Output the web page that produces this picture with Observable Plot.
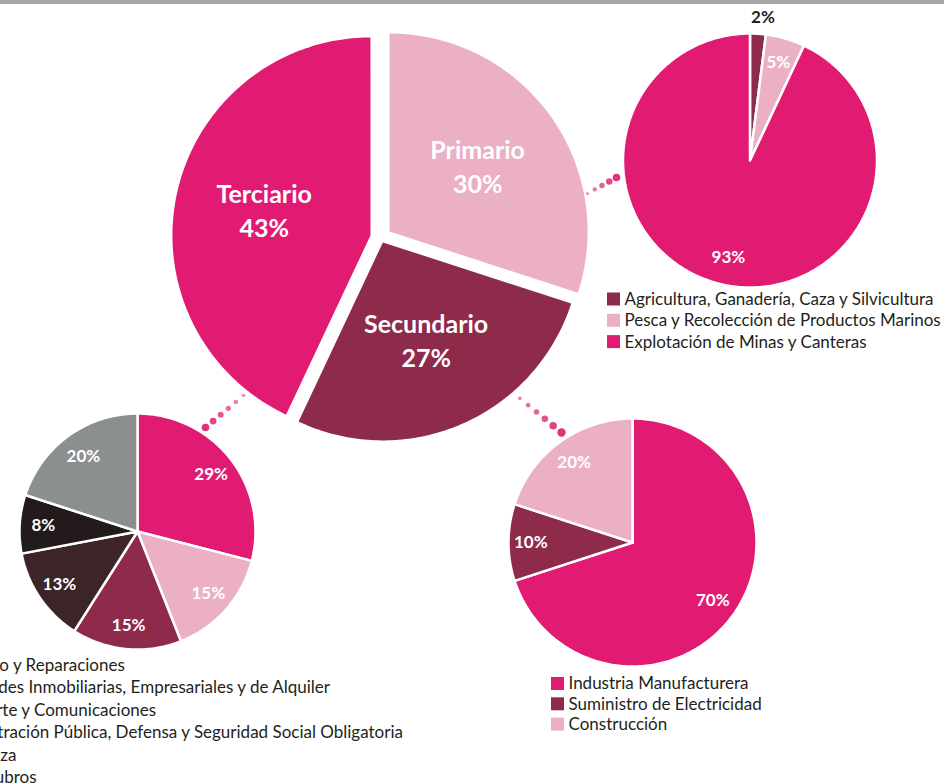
<!DOCTYPE html>
<html>
<head>
<meta charset="utf-8">
<script src="https://cdn.jsdelivr.net/npm/d3@7"></script>
<script src="https://cdn.jsdelivr.net/npm/@observablehq/plot@0.6"></script>
<style>
  html, body { margin: 0; padding: 0; background: #fff; overflow: hidden; }
  #wrap { position: relative; width: 944px; height: 784px; }
  #topbar { position: absolute; left: 0; top: 0; width: 944px; height: 4px; background: #a7a8ac; z-index: 2; }
</style>
</head>
<body>
<div id="wrap"><div id="topbar"></div><div id="chart"></div></div>
<script>
// ---------- DATA ----------
const sectorNames = ["Primario", "Secundario", "Terciario"];
const sectorValues = [30, 27, 43];

const primarioNames = ["Agricultura, Ganadería, Caza y Silvicultura", "Pesca y Recolección de Productos Marinos", "Explotación de Minas y Canteras"];
const primarioValues = [2, 5, 93];

const secundarioNames = ["Industria Manufacturera", "Suministro de Electricidad", "Construcción"];
const secundarioValues = [70, 10, 20];

const terciarioNames = ["Comercio y Reparaciones", "Actividades Inmobiliarias, Empresariales y de Alquiler", "Transporte y Comunicaciones", "Administración Pública, Defensa y Seguridad Social Obligatoria", "Enseñanza", "Otros Rubros"];
const terciarioValues = [29, 15, 15, 13, 8, 20];

// ---------- STYLES / LAYOUT ----------
const PINK = "#e21b72", LIGHT = "#ecb0c4", MAROON = "#8e2a4a", BROWN = "#3d2427", BLACK = "#231a1b", GRAY = "#8c8f90";
const sectorColors = [LIGHT, MAROON, PINK];
const primarioColors = [MAROON, LIGHT, PINK];
const secundarioColors = [PINK, MAROON, LIGHT];
const terciarioColors = [PINK, LIGHT, MAROON, BROWN, BLACK, GRAY];

const W = 944, H = 784;
const FONT = "Lato, 'Open Sans', sans-serif";
const TXT = "#231f20";

const mainPie = {cx: 380.4, cy: 237.3, r: 198, explode: [10.7, 5, 10.7]};
const priPie = {cx: 749.5, cy: 160, r: 127};
const secPie = {cx: 632, cy: 542, r: 124};
const terPie = {cx: 137, cy: 531, r: 118};

function arcs(values) {
  return d3.pie().sort(null).value(d => d).startAngle(0).endAngle(2 * Math.PI)(values);
}
function pt(cx, cy, r, a) { return [cx + r * Math.sin(a), cy - r * Math.cos(a)]; }

function polys(key, values, colors, pie) {
  const out = [];
  arcs(values).forEach((a, i) => {
    const mid = (a.startAngle + a.endAngle) / 2;
    const e = pie.explode ? pie.explode[i] : 0;
    const [cx, cy] = pt(pie.cx, pie.cy, e, mid);
    const id = key + i;
    out.push({id, x: cx, y: cy, color: colors[i]});
    const n = Math.max(2, Math.ceil((a.endAngle - a.startAngle) / (Math.PI / 180)));
    for (let k = 0; k <= n; k++) {
      const ang = a.startAngle + (a.endAngle - a.startAngle) * k / n;
      const [x, y] = pt(cx, cy, pie.r, ang);
      out.push({id, x, y, color: colors[i]});
    }
    out.push({id, x: cx, y: cy, color: colors[i]});
  });
  return out;
}

function pctLabels(values, pie, frac, fills, dx = []) {
  return arcs(values).map((a, i) => {
    const mid = (a.startAngle + a.endAngle) / 2;
    const [x, y] = pt(pie.cx, pie.cy, pie.r * frac[i], mid);
    return {x: x + (dx[i] || 0), y, text: values[i] + "%", fill: fills[i]};
  });
}

// main pie labels (two lines)
const mainLabels = [];
arcs(sectorValues).forEach((a, i) => {
  const mid = (a.startAngle + a.endAngle) / 2;
  const [ex, ey] = pt(mainPie.cx, mainPie.cy, mainPie.explode[i], mid);
  const [x, y] = pt(ex, ey, mainPie.r * 0.55, mid);
  mainLabels.push({x, y: y - 17, text: sectorNames[i]});
  mainLabels.push({x, y: y + 17, text: sectorValues[i] + "%"});
});

const priLabels = pctLabels(primarioValues, priPie, [1.13, 0.8, 0.78], [TXT, "#fff", "#fff"], [4, 0, 0]);
const secLabels = pctLabels(secundarioValues, secPie, [0.8, 0.82, 0.8], ["#fff", "#fff", "#fff"]);
const terLabels = pctLabels(terciarioValues, terPie, [0.79, 0.8, 0.8, 0.8, 0.8, 0.78], ["#fff", "#fff", "#fff", "#fff", "#fff", "#fff"]);

// legends
function legend(names, colors, x0, y0, dy) {
  return names.map((n, i) => ({name: n, color: colors[i], x: x0, y: y0 + i * dy}));
}
const priLegend = legend(primarioNames, primarioColors, 607, 299, 21.3);
const secLegend = legend(secundarioNames, secundarioColors, 551, 683.5, 20.3);
const terLegend = legend(terciarioNames, terciarioColors, -80, 665, 22.5);
const allLegend = [...priLegend, ...secLegend, ...terLegend];

// dotted connectors
function connector(x1, y1, x2, y2, n, r1, r2) {
  return d3.range(n).map(k => {
    const t = k / (n - 1);
    return {x: x1 + (x2 - x1) * t, y: y1 + (y2 - y1) * t, r: r1 + (r2 - r1) * t, o: 0.55 + 0.45 * t};
  });
}
const dots = [
  ...connector(587, 193, 616, 177, 5, 1.6, 3.8),
  ...connector(243, 395, 205, 427, 6, 1.8, 3.8),
  ...connector(511, 391, 561, 432, 7, 1.4, 4.2)
];

const chart = Plot.plot({
  width: W, height: H, margin: 0,
  x: {domain: [0, W], range: [0, W], axis: null},
  y: {domain: [0, H], range: [0, H], axis: null},
  color: {type: "identity"},
  r: {type: "identity"},
  opacity: {type: "identity"},
  style: {background: "#fff", overflow: "hidden"},
  marks: [
    Plot.dot(dots, {x: "x", y: "y", r: "r", fill: "#e0337a", fillOpacity: "o", stroke: "none"}),
    Plot.line(polys("m", sectorValues, sectorColors, mainPie), {x: "x", y: "y", z: "id", fill: "color", stroke: "none", curve: "linear"}),
    Plot.line(polys("p", primarioValues, primarioColors, priPie), {x: "x", y: "y", z: "id", fill: "color", stroke: "#fff", strokeWidth: 2.5, strokeLinejoin: "miter", curve: "linear"}),
    Plot.line(polys("s", secundarioValues, secundarioColors, secPie), {x: "x", y: "y", z: "id", fill: "color", stroke: "#fff", strokeWidth: 2.5, strokeLinejoin: "miter", curve: "linear"}),
    Plot.line(polys("t", terciarioValues, terciarioColors, terPie), {x: "x", y: "y", z: "id", fill: "color", stroke: "#fff", strokeWidth: 2.5, strokeLinejoin: "miter", curve: "linear"}),
    Plot.text(mainLabels, {x: "x", y: "y", text: "text", fill: "#fff", fontSize: 25, fontWeight: "bold", fontFamily: FONT}),
    Plot.text([...priLabels, ...secLabels, ...terLabels], {x: "x", y: "y", text: "text", fill: "fill", fontSize: 17, fontWeight: "bold", fontFamily: FONT}),
    Plot.rect(allLegend, {x1: d => d.x, x2: d => d.x + 13, y1: d => d.y - 6.5, y2: d => d.y + 6.5, fill: "color"}),
    Plot.text(allLegend, {x: d => d.x + 17, y: "y", text: "name", textAnchor: "start", fill: TXT, fontSize: 17, fontFamily: FONT})
  ]
});
document.getElementById("chart").appendChild(chart);
</script>
</body>
</html>
